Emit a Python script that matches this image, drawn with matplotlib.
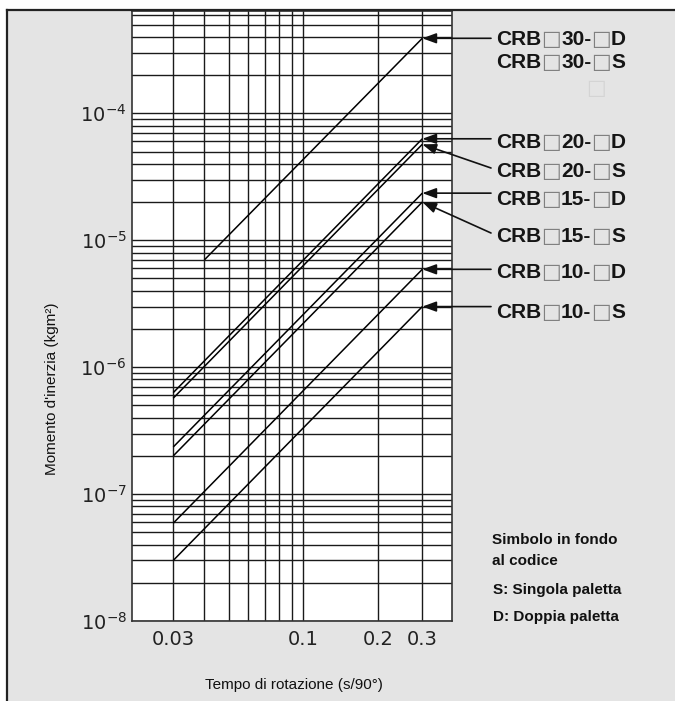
import numpy as np
import matplotlib
matplotlib.use('Agg')
import matplotlib.pyplot as plt
from matplotlib import font_manager
from matplotlib.offsetbox import TextArea, HPacker, AnnotationBbox
from matplotlib.patches import Rectangle
from matplotlib.lines import Line2D
from matplotlib.ticker import (LogLocator, FixedLocator, FixedFormatter, NullFormatter,
                               LogFormatterSciNotation)

# ---------------- data ----------------
line_names = ['CRB30', 'CRB20-D', 'CRB20-S', 'CRB15-D', 'CRB15-S', 'CRB10-D', 'CRB10-S']
t_start = [0.04, 0.03, 0.03, 0.03, 0.03, 0.03, 0.03]
t_end = [0.3, 0.3, 0.3, 0.3, 0.3, 0.3, 0.3]
j_start = [7.0e-6, 6.3e-7, 5.7e-7, 2.35e-7, 2.0e-7, 5.9e-8, 3.0e-8]
j_end = [3.9e-4, 6.3e-5, 5.7e-5, 2.35e-5, 2.0e-5, 5.9e-6, 3.0e-6]

label_sizes = ['30', '30', '20', '20', '15', '15', '10', '10']
label_suffix = ['D', 'S', 'D', 'S', 'D', 'S', 'D', 'S']
label_target = [0, None, 1, 2, 3, 4, 5, 6]

x_ticks = [0.03, 0.1, 0.2, 0.3]
x_tick_labels = ['0.03', '0.1', '0.2', '0.3']
y_ticks = [1e-8, 1e-7, 1e-6, 1e-5, 1e-4]

legend_lines = ['Simbolo in fondo', 'al codice', 'S: Singola paletta', 'D: Doppia paletta']

xlabel = 'Tempo di rotazione (s/90°)'
ylabel = "Momento d'inerzia (kgm²)"

# ---------------- layout ----------------
W, H = 675, 701
label_y_px = [39, 62, 141.7, 171, 198.7, 236, 272.3, 311.7]
arrow_start_y_px = [None, None, None, 168, None, 233, None, None]
legend_pos_px = [(492, 540), (492, 561), (493, 590), (493, 617.3)]


def has_font(name):
    try:
        font_manager.findfont(font_manager.FontProperties(family=name),
                              fallback_to_default=False)
        return True
    except Exception:
        return False


narrow = has_font('Liberation Sans Narrow')

fig = plt.figure(figsize=(W / 100, H / 100), dpi=100)
fig.patch.set_facecolor('white')


def fx(px):
    return px / W


def fy(py):
    return 1 - py / H


# gray panel and border
fig.add_artist(Rectangle((fx(6.5), 0), 1, fy(10), transform=fig.transFigure,
                         facecolor='#e4e4e4', edgecolor='none', zorder=-10))
fig.add_artist(Line2D([fx(6.5), fx(6.5)], [0, fy(10)], transform=fig.transFigure,
                      color='#222222', lw=1.6))
fig.add_artist(Line2D([fx(6.5), 1], [fy(10), fy(10)], transform=fig.transFigure,
                      color='#222222', lw=1.6))

ax = fig.add_axes([fx(131.7), fy(621), fx(451.7) - fx(131.7), fy(11) - fy(621)])
ax.set_facecolor('white')
ax.set_xscale('log')
ax.set_yscale('log')
ax.set_xlim(0.02043, 0.3937)
ax.set_ylim(1e-8, 6.4e-4)

ax.xaxis.set_major_locator(FixedLocator(x_ticks))
ax.xaxis.set_major_formatter(FixedFormatter(x_tick_labels))
ax.xaxis.set_minor_locator(LogLocator(base=10, subs=np.arange(2, 10), numticks=50))
ax.xaxis.set_minor_formatter(NullFormatter())
ax.yaxis.set_major_locator(FixedLocator(y_ticks))
ax.yaxis.set_major_formatter(LogFormatterSciNotation())
ax.yaxis.set_minor_locator(LogLocator(base=10, subs=np.arange(2, 10), numticks=50))
ax.yaxis.set_minor_formatter(NullFormatter())

ax.grid(True, which='both', color='#1a1a1a', lw=1.0)
ax.set_axisbelow(True)
ax.tick_params(which='both', length=0)
ax.tick_params(axis='x', pad=6.5, labelsize=14, labelcolor='#222222')
ax.tick_params(axis='y', pad=3.6, labelsize=14, labelcolor='#222222')
for t in ax.get_xticklabels() + ax.get_yticklabels():
    t.set_family('DejaVu Sans')
for s in ax.spines.values():
    s.set_color('#333333')
    s.set_linewidth(1.2)

for i in range(len(line_names)):
    ax.plot([t_start[i], t_end[i]], [j_start[i], j_end[i]], color='black', lw=1.1,
            solid_capstyle='butt', zorder=3)

fig.canvas.draw()

# labels with arrows
bold_family = ['Liberation Sans', 'DejaVu Sans']
for k in range(len(label_sizes)):
    parts = [('CRB', 'b'), ('\u25a1', 'x'), (label_sizes[k] + '-', 'b'), ('\u25a1', 'x'),
             (label_suffix[k], 'b')]
    children = []
    for txt, kind in parts:
        if kind == 'b':
            tp = dict(fontsize=15, fontweight='bold', family=bold_family, color='#151515')
        else:
            tp = dict(fontsize=15, family='DejaVu Sans', color='#808080')
        children.append(TextArea(txt, textprops=tp))
    pack = HPacker(children=children, align='baseline', pad=0, sep=0)
    ab = AnnotationBbox(pack, (fx(496), fy(label_y_px[k])), xycoords='figure fraction',
                        box_alignment=(0, 0.5), frameon=False, pad=0)
    fig.add_artist(ab)

    tgt = label_target[k]
    if tgt is not None:
        tip = (t_end[tgt], j_end[tgt])
        tip_disp = ax.transData.transform(tip)
        if arrow_start_y_px[k] is None:
            start = (491, tip_disp[1])
        else:
            start = (491, H - arrow_start_y_px[k])
        ax.annotate('', xy=tip, xycoords='data', xytext=start, textcoords='figure pixels',
                    arrowprops=dict(arrowstyle='-|>,head_length=0.6,head_width=0.22',
                                    mutation_scale=14, color='#111111', lw=1.2,
                                    shrinkA=0, shrinkB=0),
                    annotation_clip=False, zorder=5)

# faint extra box under the 30 labels
fig.text(fx(595.7), fy(87.7), '\u25a1', fontsize=15, family='DejaVu Sans',
         color='#d4d4d4', ha='center', va='center')

# legend text
if narrow:
    leg_font = dict(family=['Liberation Sans Narrow', 'DejaVu Sans'], fontweight='bold',
                    fontsize=13)
else:
    leg_font = dict(family=['Liberation Sans', 'DejaVu Sans'], fontweight='bold',
                    fontsize=11)
for txt, (px, py) in zip(legend_lines, legend_pos_px):
    fig.text(fx(px), fy(py), txt, ha='left', va='center', color='#111111', **leg_font)

# axis titles
fig.text(fx(51.7), fy(388.5), ylabel, rotation=90, ha='center', va='center',
         fontsize=11, family=['Liberation Sans', 'DejaVu Sans'], color='#111111')
fig.text(fx(294.4), fy(685), xlabel, ha='center', va='center',
         fontsize=11, family=['Liberation Sans', 'DejaVu Sans'], color='#111111')

fig.savefig('out.png', dpi=100)
